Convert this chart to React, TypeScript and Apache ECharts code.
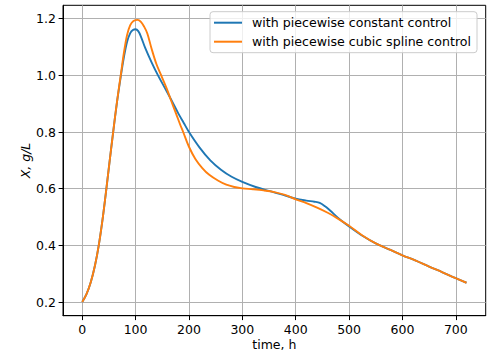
import React, { useEffect, useRef } from "react";
import * as echarts from "echarts";

const xTicks = [0, 100, 200, 300, 400, 500, 600, 700];
const yTicks = [0.2, 0.4, 0.6, 0.8, 1.0, 1.2];
const seriesNames = ["with piecewise constant control", "with piecewise cubic spline control"];

const constantTime = [0, 8, 16, 24, 31, 38, 44, 50, 58, 65, 72, 78, 84, 90, 95, 100, 105, 110, 118, 130, 142, 155, 167, 180, 190, 200, 220, 240, 260, 280, 300, 325, 350, 375, 400, 420, 435, 445, 455, 465, 480, 500, 525, 550, 575, 600, 625, 650, 675, 700, 720];
const constantX = [0.2, 0.228, 0.27, 0.33, 0.4, 0.49, 0.58, 0.675, 0.8, 0.903, 0.993, 1.063, 1.118, 1.149, 1.16, 1.163, 1.156, 1.137, 1.097, 1.046, 1.0, 0.955, 0.913, 0.866, 0.833, 0.8, 0.745, 0.7, 0.667, 0.642, 0.624, 0.606, 0.592, 0.579, 0.565, 0.558, 0.554, 0.55, 0.538, 0.522, 0.496, 0.467, 0.434, 0.407, 0.386, 0.365, 0.346, 0.325, 0.305, 0.284, 0.268];

const splineTime = [0, 8, 16, 24, 31, 38, 44, 50, 58, 65, 72, 78, 84, 90, 96, 104, 110, 116, 122, 130, 139, 148, 158, 166, 176, 184, 189, 200, 212, 225, 238, 255, 270, 285, 300, 320, 340, 360, 380, 400, 420, 440, 460, 476, 500, 525, 550, 575, 600, 625, 650, 675, 700, 720];
const splineX = [0.2, 0.228, 0.27, 0.33, 0.4, 0.49, 0.58, 0.675, 0.8, 0.905, 0.998, 1.078, 1.142, 1.177, 1.192, 1.196, 1.189, 1.172, 1.148, 1.094, 1.04, 1.0, 0.955, 0.914, 0.864, 0.824, 0.801, 0.748, 0.705, 0.673, 0.649, 0.628, 0.614, 0.606, 0.601, 0.598, 0.594, 0.588, 0.578, 0.5625, 0.549, 0.533, 0.515, 0.498, 0.469, 0.435, 0.407, 0.386, 0.365, 0.346, 0.325, 0.305, 0.284, 0.268];

const pair = (xs: number[], ys: number[]) => xs.map((x, i) => [x, ys[i]]);

const FONT = "DejaVu Sans";

export default function App() {
  const ref = useRef<HTMLDivElement>(null);
  useEffect(() => {
    if (!ref.current) return;
    const chart = echarts.init(ref.current, null, { renderer: "svg" });
    chart.setOption({
      animation: false,
      backgroundColor: "#ffffff",
      grid: {
        left: 63,
        right: 5.3,
        top: 5.3,
        bottom: 37.3,
        show: true,
        borderColor: "#000000",
        borderWidth: 1,
        backgroundColor: "transparent",
        outerBoundsMode: "none",
        containLabel: false,
      },
      legend: {
        left: 210,
        top: 11.7,
        orient: "vertical",
        icon: "rect",
        itemWidth: 28,
        itemHeight: 2,
        itemGap: 5,
        padding: [4, 6, 4, 4],
        backgroundColor: "rgba(255,255,255,0.8)",
        borderColor: "#cccccc",
        borderWidth: 1,
        borderRadius: 3,
        textStyle: {
          fontFamily: FONT,
          fontSize: 12.6,
          color: "#000000",
          lineHeight: 14,
          padding: [0, 0, 0, 5],
        },
        data: seriesNames,
      },
      xAxis: {
        type: "value",
        min: -36,
        max: 756,
        name: "time, h",
        nameLocation: "middle",
        nameGap: 22,
        nameMoveOverlap: false,
        nameTextStyle: { fontFamily: FONT, fontSize: 12.5, color: "#000000", lineHeight: 14 },
        axisLine: { show: true, onZero: false, lineStyle: { color: "#000000", width: 1 } },
        axisTick: { show: true, length: 4.4, customValues: xTicks, lineStyle: { color: "#000000", width: 1 } },
        axisLabel: {
          customValues: xTicks,
          margin: 7,
          fontFamily: FONT,
          fontSize: 12.5,
          color: "#000000",
          formatter: (v: number) => String(Math.round(v)),
        },
        splitLine: { show: true, lineStyle: { color: "#b0b0b0", width: 1 } },
      },
      yAxis: {
        type: "value",
        min: 0.1517,
        max: 1.2473,
        name: "X, g/L",
        nameLocation: "middle",
        nameGap: 31,
        nameMoveOverlap: false,
        nameTextStyle: { fontFamily: FONT, fontSize: 12.5, fontStyle: "italic", color: "#000000", lineHeight: 14 },
        axisLine: { show: true, onZero: false, lineStyle: { color: "#000000", width: 1 } },
        axisTick: { show: true, length: 4.4, customValues: yTicks, lineStyle: { color: "#000000", width: 1 } },
        axisLabel: {
          customValues: yTicks,
          margin: 7,
          fontFamily: FONT,
          fontSize: 12.5,
          color: "#000000",
          formatter: (v: number) => v.toFixed(1),
        },
        splitLine: { show: true, lineStyle: { color: "#b0b0b0", width: 1 } },
      },
      series: [
        {
          name: seriesNames[0],
          type: "line",
          data: pair(constantTime, constantX),
          showSymbol: false,
          smooth: 0.35,
          color: "#1f77b4",
          lineStyle: { width: 1.9, color: "#1f77b4" },
        },
        {
          name: seriesNames[1],
          type: "line",
          data: pair(splineTime, splineX),
          showSymbol: false,
          smooth: 0.35,
          color: "#ff7f0e",
          lineStyle: { width: 1.9, color: "#ff7f0e" },
        },
      ],
    });
    return () => chart.dispose();
  }, []);
  return (
    <div
      ref={ref}
      style={{ position: "fixed", left: 0, top: 0, width: 491, height: 353 }}
    />
  );
}
